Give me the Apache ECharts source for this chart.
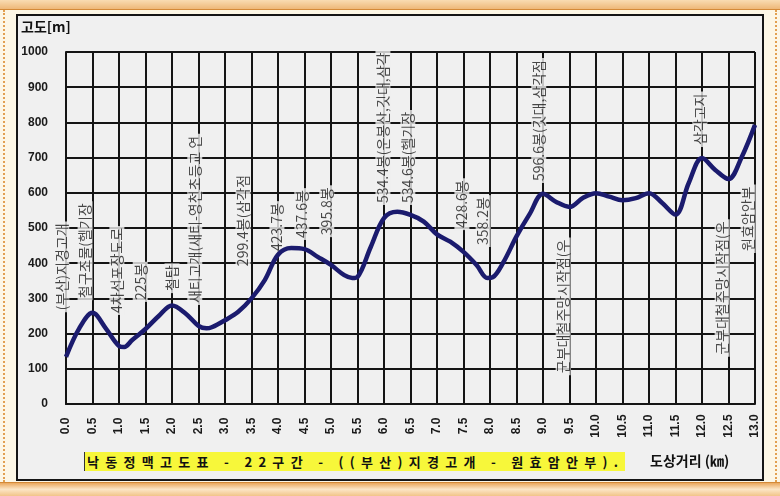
<!DOCTYPE html>
<html><head><meta charset="utf-8">
<script src="https://cdn.jsdelivr.net/npm/echarts@6/dist/echarts.min.js"></script>
<style>
html,body{margin:0;padding:0;}
body{width:780px;height:496px;position:relative;overflow:hidden;background:#fdf7e6;}
.topbar{position:absolute;left:0;top:0;width:780px;height:9px;background:linear-gradient(#f9dcb2,#eeb878);border-bottom:1px solid #d48a38;}
.botbar{position:absolute;left:0;top:482px;width:780px;height:14px;background:linear-gradient(#eaa85e,#fce6c6 45%,#f0bf80);border-top:1px solid #d48a38;}
.ldot{position:absolute;left:3px;top:10px;height:472px;border-left:2px dotted #e2a050;}
.rdot{position:absolute;left:775px;top:10px;height:472px;border-left:2px dotted #e2a050;}
.panel{position:absolute;left:16px;top:14px;width:744px;height:463px;border:2px solid #151515;background:#f0f0f0;}
#chart{position:absolute;left:0;top:0;width:780px;height:496px;}
.cap{position:absolute;left:84px;top:452px;width:541px;height:19px;line-height:19px;background:#f7f73a;font-family:"Noto Sans CJK KR";font-weight:bold;font-size:13px;letter-spacing:6.3px;color:#111;white-space:nowrap;padding-left:2px;box-sizing:border-box;border-left:1px solid #333;}
</style></head>
<body>
<div class="topbar"></div>
<div class="ldot"></div>
<div class="rdot"></div>
<div class="panel"></div>
<div class="botbar"></div>
<div id="chart"></div>
<div class="cap">낙동정맥고도표 - 22구간 - ((부산)지경고개 - 원효암안부).</div>
<script>
// distance along the ridge (km) and elevation (m)
const km   = [0, 0.25, 0.5, 0.75, 1.0, 1.1, 1.25, 1.5, 1.75, 2.0, 2.25, 2.5, 2.65, 2.75, 3.0, 3.25, 3.5, 3.75, 4.0, 4.25, 4.5, 4.75, 5.0, 5.25, 5.4, 5.5, 5.75, 6.0, 6.25, 6.5, 6.75, 7.0, 7.25, 7.5, 7.75, 7.95, 8.05, 8.25, 8.5, 8.75, 9.0, 9.25, 9.5, 9.75, 10.0, 10.25, 10.5, 10.75, 11.0, 11.25, 11.5, 11.75, 12.0, 12.25, 12.5, 12.75, 13.0];
const elev = [134, 215, 259, 215, 165, 162, 182, 213, 250, 280, 258, 222, 215, 218, 238, 262, 300, 352, 424, 443, 440, 418, 395, 366, 358, 361, 446, 528, 546, 537, 518, 482, 461, 432, 394, 358, 360, 402, 476, 540, 597, 574, 560, 585, 599, 589, 579, 585, 599, 571, 538, 628, 699, 665, 639, 702, 793];

// place-name annotations: position (km), bottom of text (m), text
const labelKm   = [-0.08, 0.36, 0.96, 1.40, 2.00, 2.43, 3.34, 3.98, 4.45, 4.92, 5.98, 6.45, 7.47, 7.87, 8.92, 9.38, 11.96, 12.38, 12.87];
const labelElev = [261, 295, 253, 290, 315, 281, 386, 429, 466, 474, 565, 565, 494, 446, 628, 82, 730, 134, 429];
const labelText = ["(부산)지경고개", "철구조물(헬기장", "4차선포장도로", "225봉", "철탑", "새티고개(새티-영천초등교 연", "299.4봉(삼각점", "423.7봉", "437.6봉", "395.8봉", "534.4봉(운봉산,깃대,삼각", "534.6봉(헬기장", "428.6봉", "358.2봉", "596.6봉(깃대,삼각점", "군부대철주망시작점(우", "삼각고지", "군부대철주망시작점(우", "원효암안부"];

const xMin = 0, xMax = 13, xStep = 0.5;
const yMin = 0, yMax = 1000, yStep = 100;
const yTitle = "고도[m]";
const xTitle = "도상거리 (㎞)";

const chart = echarts.init(document.getElementById('chart'), null, {renderer: 'canvas'});
const gridColor = '#141414';
chart.setOption({
  backgroundColor: 'transparent',
  animation: false,
  grid: {left: 66, right: 25, top: 52, bottom: 92},
  graphic: [
    {type: 'text', left: 21, top: 20, style: {text: yTitle, font: 'bold 14px "Noto Sans CJK KR"', fill: '#111'}},
    {type: 'text', left: 650, top: 454, style: {text: xTitle, font: 'bold 14px "Noto Sans CJK KR"', fill: '#111'}}
  ],
  xAxis: {
    type: 'value', min: xMin, max: xMax, interval: xStep,
    axisLine: {show: true, lineStyle: {color: gridColor, width: 2}},
    axisTick: {show: false},
    splitLine: {show: true, lineStyle: {color: gridColor, width: 2}},
    axisLabel: {rotate: 90, margin: 22, align: 'center', verticalAlign: 'middle', padding: [0, 0, 8, 0],
      formatter: v => v.toFixed(1), fontFamily: 'Liberation Sans', fontSize: 12, fontWeight: 'bold', color: '#1a1a1a'}
  },
  yAxis: {
    type: 'value', min: yMin, max: yMax, interval: yStep,
    axisLine: {show: true, lineStyle: {color: gridColor, width: 2}},
    axisTick: {show: false},
    splitLine: {show: true, lineStyle: {color: gridColor, width: 2}},
    axisLabel: {margin: 18, formatter: v => String(v), fontFamily: 'Liberation Sans', fontSize: 12, fontWeight: 'bold', color: '#1a1a1a'}
  },
  series: [
    {
      type: 'scatter', clip: false, symbolSize: 1, silent: true,
      itemStyle: {color: 'transparent'},
      data: labelKm.map((k, i) => [k, labelElev[i], labelText[i]]),
      label: {show: true, position: 'inside', rotate: 90, align: 'left', verticalAlign: 'middle',
        formatter: p => p.data[2], fontFamily: 'Noto Sans CJK KR', fontSize: 14, lineHeight: 15, color: '#1a1a1a',
        backgroundColor: '#f0f0f0', padding: [0, 2]}
    },
    {
      type: 'line', smooth: 0.35, symbol: 'none',
      data: km.map((k, i) => [k, elev[i]]),
      lineStyle: {color: '#1b1b6e', width: 4.5}
    }
  ]
});
</script>
</body></html>
